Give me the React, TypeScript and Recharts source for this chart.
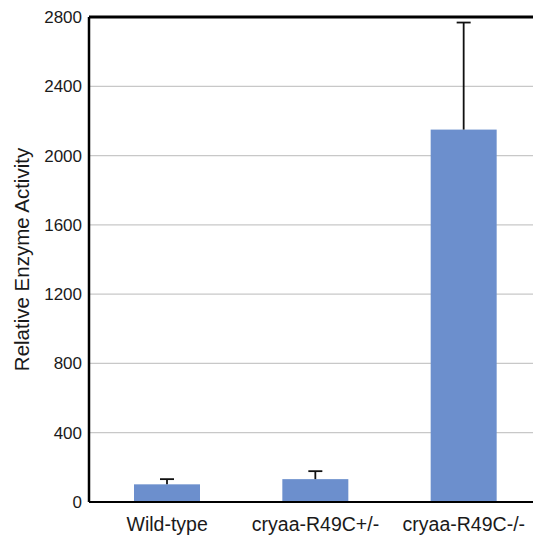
import React from "react";
import { BarChart, Bar, XAxis, YAxis, CartesianGrid, ReferenceLine } from "recharts";

const groups = ["Wild-type", "cryaa-R49C+/-", "cryaa-R49C-/-"];
const activity = [102, 132, 2150];
const errorUp = [30, 46, 618];
const yTicks = [0, 400, 800, 1200, 1600, 2000, 2400, 2800];

const data = groups.map((g, i) => ({ name: g, value: activity[i], err: errorUp[i] }));

// bar plus an upward-only error whisker
const BarWithError = (props: any) => {
    const { x, y, width, height, payload, fill } = props;
    const pxPerUnit = payload.value ? height / payload.value : 0;
    const top = y - payload.err * pxPerUnit;
    const cx = x + width / 2;
    return (
        <g>
            <rect x={x} y={y} width={width} height={height} fill={fill} />
            <line x1={cx} x2={cx} y1={y} y2={top} stroke="#111" strokeWidth={1.8} />
            <line x1={cx - 7} x2={cx + 7} y1={top} y2={top} stroke="#111" strokeWidth={1.8} />
        </g>
    );
};

export default function App() {
    return (
        <div
            style={{
                position: "absolute",
                left: 0,
                top: 0,
                width: 533,
                height: 536,
                overflow: "hidden",
                background: "#fff",
            }}
        >
            <BarChart
                width={545}
                height={536}
                data={data}
                margin={{ top: 17, right: 7, left: 0, bottom: 0 }}
                style={{ fontFamily: "Liberation Sans, Arial, sans-serif" }}
            >
                <CartesianGrid vertical={false} stroke="#c8c8c8" strokeWidth={1.2} />
                <XAxis
                    dataKey="name"
                    height={34}
                    padding={{ left: 4, right: 0 }}
                    axisLine={{ stroke: "#000", strokeWidth: 2 }}
                    tickLine={false}
                    tick={{ fill: "#1a1a1a", fontSize: 19.5 }}
                    tickMargin={9}
                    interval={0}
                />
                <YAxis
                    width={89}
                    domain={[0, 2800]}
                    ticks={yTicks}
                    interval={0}
                    axisLine={{ stroke: "#000", strokeWidth: 2.5 }}
                    tickLine={false}
                    tick={{ fill: "#1a1a1a", fontSize: 17 }}
                    tickMargin={1}
                    label={{
                        value: "Relative Enzyme Activity",
                        angle: -90,
                        position: "insideLeft",
                        offset: 22,
                        style: { textAnchor: "middle", fontSize: 20.5, fill: "#1a1a1a" },
                    }}
                />
                <ReferenceLine y={2800} stroke="#000" strokeWidth={3} />
                <Bar
                    dataKey="value"
                    fill="#6c8fcd"
                    barSize={66}
                    shape={BarWithError}
                    isAnimationActive={false}
                />
            </BarChart>
        </div>
    );
}
